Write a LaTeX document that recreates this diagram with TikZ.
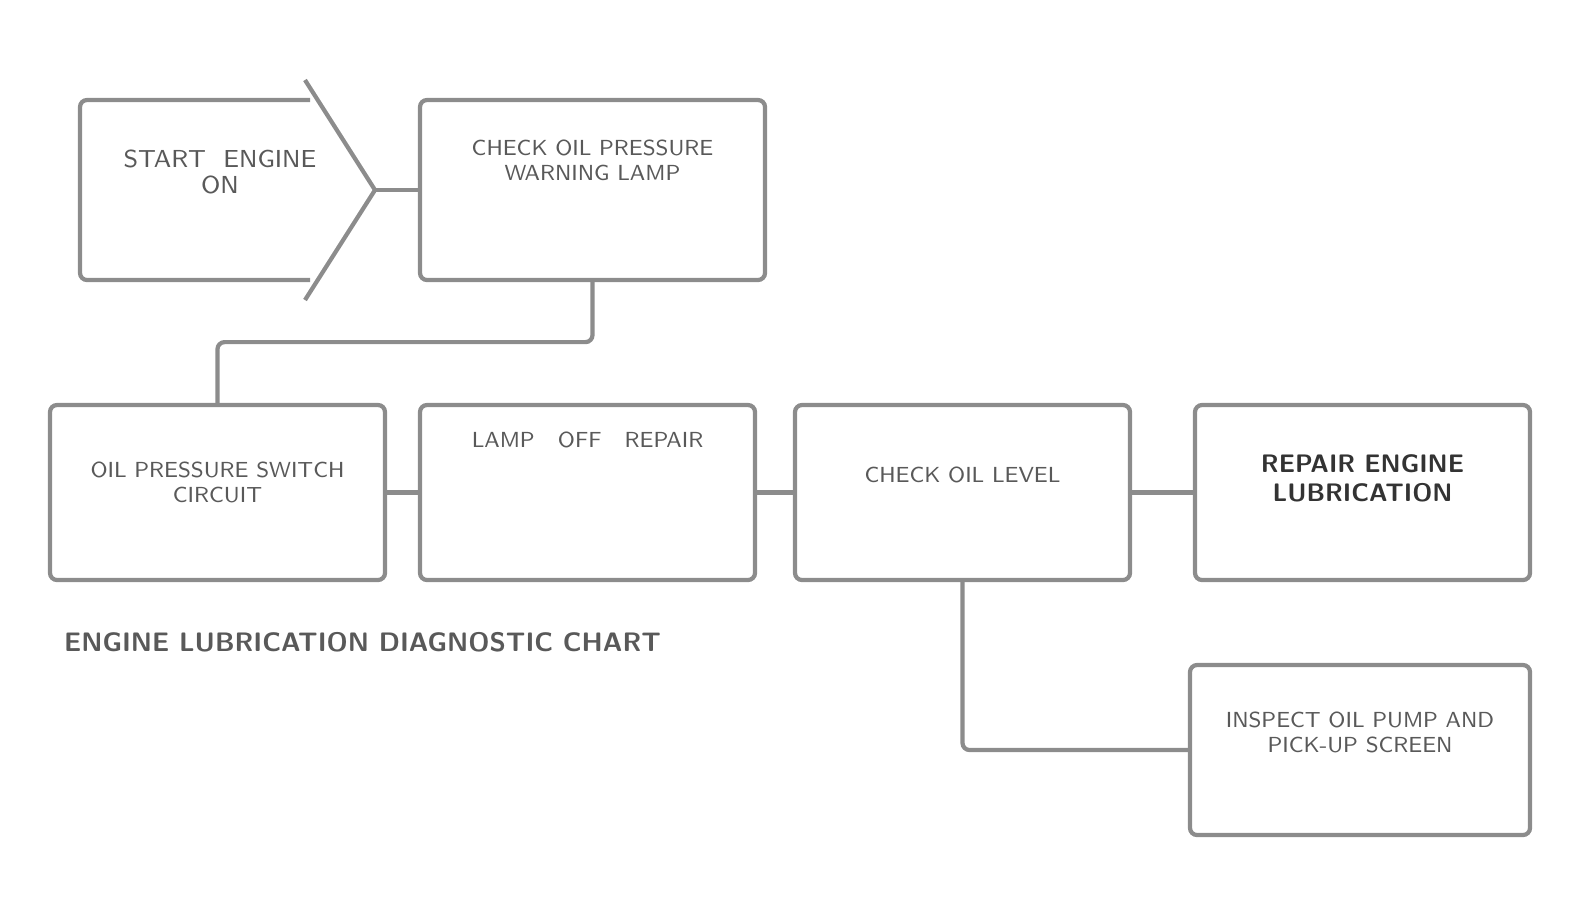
\documentclass[tikz,border=0pt]{standalone}
\usetikzlibrary{positioning}
\begin{document}
\begin{tikzpicture}[
    line/.style={draw=black!45,line width=1.2pt,rounded corners=2pt},
    box/.style={line,minimum width=3.35cm,minimum height=1.75cm,inner sep=0pt},
    txt/.style={text=black!65,font=\sffamily\fontsize{6.2}{7}\selectfont,align=center,inner sep=1pt},
    ]
    \useasboundingbox (0,0) rectangle (15.71,-9.2);
    % first row
    \draw[line] (3.1,-1.0)--(0.8,-1.0)--(0.8,-2.8)--(3.1,-2.8);
    \draw[line,rounded corners=0pt] (3.05,-0.8)--(3.75,-1.9) coordinate (tip)--(3.05,-3.0);
    \node[txt,font=\sffamily\fontsize{7}{7.5}\selectfont] (startT) at (2.2,-1.72) {START \ ENGINE\\ON};
    \node[box,minimum width=3.45cm,minimum height=1.8cm] (lamp) at (5.925,-1.9) {};
    \node[txt,below=0.38cm of lamp.north] (lampT) {CHECK OIL PRESSURE\\WARNING LAMP};
    % second row
    \path
    foreach \n/\x in {sw/2.175,off/5.875,lvl/9.625,rep/13.625} {(\x,-4.925) node[box] (\n) {}};
    \node[txt,below=0.55cm of sw.north] (swT) {OIL PRESSURE SWITCH\\CIRCUIT};
    \node[txt,below=0.25cm of off.north] (offT) {LAMP \ \ OFF \ \ REPAIR};
    \node[txt,below=0.6cm of lvl.north] (lvlT) {CHECK OIL LEVEL};
    \node[txt,below=0.48cm of rep.north,font=\sffamily\bfseries\fontsize{7.2}{8}\selectfont,text=black!80] (repT) {REPAIR ENGINE\\LUBRICATION};
    \node[box,minimum width=3.4cm,minimum height=1.7cm] (pump) at (13.6,-7.5) {};
    \node[txt,below=0.45cm of pump.north] (pumpT) {INSPECT OIL PUMP AND\\PICK-UP SCREEN};
    \node[txt,font=\sffamily\bfseries\fontsize{7.6}{8}\selectfont,anchor=west] (cap) at (0.6,-6.42) {ENGINE LUBRICATION DIAGNOSTIC CHART};
    % connectors
    \draw[line] (tip)--(lamp.west);
    \draw[line] (lamp.south)--++(0,-0.6)-|(sw.north);
    \foreach \a/\b in {sw/off,off/lvl,lvl/rep} \draw[line] (\a.east)--(\b.west);
    \draw[line] (lvl.south)|-(pump.west);
\end{tikzpicture}
\end{document}
